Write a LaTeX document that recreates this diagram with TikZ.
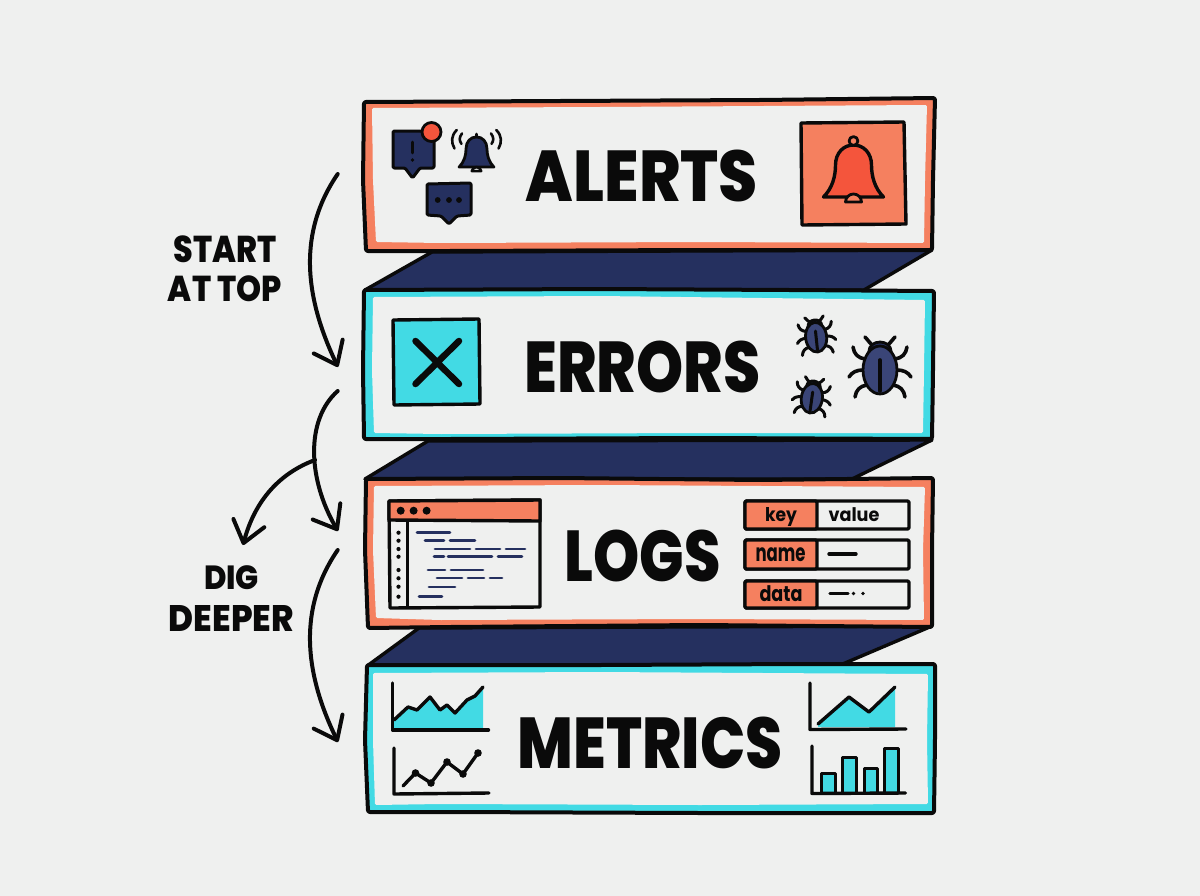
\documentclass[tikz,border=0pt]{standalone}
\usepackage{fontspec}
\usepackage{graphicx}
\setmainfont{Poppins}
\newfontface\heavyface{Poppins ExtraBold}
\newfontface\smallface{Poppins Bold}
\usetikzlibrary{arrows.meta}
\definecolor{paper}{HTML}{EFF0EF}
\definecolor{coral}{HTML}{F5805F}
\definecolor{aqua}{HTML}{42DAE4}
\definecolor{navy}{HTML}{25305F}
\definecolor{bugblue}{HTML}{3A4577}
\definecolor{inkred}{HTML}{F4553C}
\definecolor{ink}{HTML}{0A0A0A}
% Text stretched to a given box, sizes in drawing units
\newcommand{\fitbox}[3]{\resizebox*{#1\dimexpr0.75pt\relax}{#2\dimexpr0.75pt\relax}{\heavyface #3}}
\newcommand{\fitsmall}[3]{\resizebox*{#1\dimexpr0.75pt\relax}{#2\dimexpr0.75pt\relax}{\smallface #3}}
\tikzset{
  px/.style={line width=#1*0.75pt},
  frame/.style={draw=ink,px=4,rounded corners=1.5pt,line join=round},
  inset/.style={fill=paper,rounded corners=1pt},
  shelf/.style={fill=navy,draw=ink,px=3.4,line join=round},
  title/.style={inner sep=0pt,text=ink},
  ticklabel/.style={inner sep=0pt,text=ink},
  stroke/.style={draw=ink,px=3.4,line cap=round,line join=round},
  code/.style={draw=navy,px=2.8,line cap=round},
  flow/.style={draw=ink,px=4,line cap=round,
    -{Straight Barb[length=15.5pt,width=24pt,round,line width=3pt]}},
}
% Bell outline centred at the origin: half width 30, height 52
\newcommand{\bellpath}{(-30,26) .. controls (-21,17) and (-18,5) .. (-18,-6)
  .. controls (-18,-18) and (-10,-26) .. (0,-26)
  .. controls (10,-26) and (18,-18) .. (18,-6)
  .. controls (18,5) and (21,17) .. (30,26) -- cycle}
% One beetle: #1,#2 position, #3 scale, #4 rotation, #5 line width of its legs
\newcommand{\beetle}[5]{%
  \begin{scope}[shift={(#1,#2)},scale=#3,rotate=#4]
    \foreach \s in {-1,1}{
      \draw[stroke,px=#5,xscale=\s] (6,-22) .. controls (10,-24) and (12,-28) .. (15,-31);
      \draw[stroke,px=#5,xscale=\s] (15,-9) .. controls (22,-10) and (26,-14) .. (27,-21);
      \draw[stroke,px=#5,xscale=\s] (17,2) .. controls (23,2) and (28,4) .. (31,9);
      \draw[stroke,px=#5,xscale=\s] (13,17) .. controls (20,18) and (24,22) .. (25,29);
    }
    \fill[navy,draw=ink,px=2.8] (0,-17) ellipse [x radius=11,y radius=9];
    \fill[bugblue,draw=ink,px=2.8] (0,2) ellipse [x radius=17,y radius=24];
    \draw[stroke,px=#5] (0,-8) -- (0,23);
  \end{scope}}
\begin{document}
\begin{tikzpicture}[x=0.75pt,y=-0.75pt]
\useasboundingbox (0,0) rectangle (1200,896);
\fill[paper] (0,0) rectangle (1200,896);

% Dark slabs between the cards
\draw[shelf] (432,252) -- (932,250) -- (864,290) -- (365,290) -- cycle;
\draw[shelf] (428,441) -- (932,440) -- (852,479) -- (365,479) -- cycle;
\draw[shelf] (419,628) -- (932,626) -- (838,666) -- (367,666) -- cycle;

% ALERTS card
\draw[frame,fill=coral] (364,102) -- (560,101) -- (760,100) -- (935,98) -- (933,180) -- (932,250) -- (700,250) -- (450,251) -- (366,251) -- (363,180) -- cycle;
\path[inset] (372,108) -- (600,107) -- (927,105) -- (925,180) -- (924,243) -- (700,242) -- (440,243) -- (376,242) -- (373,180) -- cycle;
\node[title] (alerts) at (642,175.5) {\fitbox{232}{52}{ALERTS}};
\draw[stroke,fill=navy,rounded corners=1pt,px=3] (393,131) -- (434,131) -- (434,168) -- (420,168) -- (412.5,178) -- (405,168) -- (393,168) -- cycle;
\draw[draw=ink,px=2.6,line cap=round] (412.5,142) -- (412.5,153);
\fill[ink] (412.5,160) circle [radius=1.8];
\fill[inkred,draw=ink,px=2.8] (431.5,132) circle [radius=9.5];
\begin{scope}[shift={(476.5,152)},scale=0.58]
  \draw[stroke,fill=navy,px=2.8] \bellpath;
  \draw[stroke,px=3] (0,-26) -- (0,-31);
  \draw[stroke,fill=paper,px=2.6] (-8,33) arc[start angle=180,end angle=360,x radius=8,y radius=7] -- cycle;
  \foreach \s in {-1,1}{
    \draw[stroke,px=2.6,xscale=\s] (26,-14) .. controls (30,-20) and (30,-25) .. (25,-32);
    \draw[stroke,px=2.6,xscale=\s] (38,-6) .. controls (44,-17) and (44,-28) .. (34,-38);
  }
\end{scope}
\draw[stroke,fill=navy,rounded corners=1pt,px=3] (427,184) -- (471,183) -- (471,215) -- (457,216) -- (449,224) -- (441,216) -- (427,215) -- cycle;
\foreach \x in {437.7,449,459} \fill[ink] (\x,200) circle [radius=2.9];
\draw[stroke,fill=coral] (801,123) -- (904,122) -- (906,224) -- (802,225) -- cycle;
\begin{scope}[shift={(853.5,171)}]
  \draw[stroke,fill=inkred] \bellpath;
  \draw[stroke,fill=coral,px=2.8] (0,-30) circle [radius=4.4];
  \draw[stroke,fill=coral,px=2.8] (-8,31) arc[start angle=180,end angle=360,x radius=8,y radius=8] -- cycle;
\end{scope}

% ERRORS card
\draw[frame,fill=aqua] (364,290) -- (600,289) -- (790,290) -- (934,291) -- (933,370) -- (932,439) -- (700,438) -- (450,439) -- (364,439) -- (363,370) -- cycle;
\path[inset] (373,297) -- (600,296) -- (925,300) -- (924,370) -- (923,433) -- (700,433) -- (440,434) -- (374,433) -- (372,370) -- cycle;
\node[title] (errors) at (642.5,366.5) {\fitbox{236}{52}{ERRORS}};
\draw[stroke,fill=aqua] (393,320) -- (479,319) -- (480,404) -- (394,405) -- cycle;
\draw[stroke,px=6.5] (415.5,341) -- (459,384) (459,341) -- (415.5,384);
\beetle{816}{336}{0.62}{6}{3}
\beetle{812}{397}{0.62}{-8}{3}
\beetle{880}{368}{1}{0}{3.6}

% LOGS card
\draw[frame,fill=coral] (366,479) -- (560,478) -- (760,480) -- (933,478) -- (932,550) -- (932,627) -- (700,625) -- (450,627) -- (368,628) -- (365,550) -- cycle;
\path[inset] (374,486) -- (600,485) -- (925,487) -- (923,550) -- (924,620) -- (700,619) -- (440,620) -- (376,618) -- (373,550) -- cycle;
\node[title] (logs) at (642.5,555.5) {\fitbox{156}{52}{LOGS}};
\draw[stroke,fill=paper] (389,501) -- (540,500) -- (540,607) -- (390,608) -- cycle;
\draw[stroke,fill=coral] (389,501) -- (540,500) -- (540,521) -- (389,520) -- cycle;
\draw[stroke] (407.5,521) -- (407.5,607);
\foreach \x in {400.7,413.6,426.6} \fill[ink] (\x,510.7) circle [radius=4];
\foreach \y in {532.7,540.7,549,556.7,570,578.3,586.7,596.7} \fill[ink] (398.5,\y) circle [radius=2.1];
\foreach \a/\b/\y in {417/450/532.7, 425/444/540.7, 450/475/540.7, 435/470/549, 476/500/549, 506/525/549,
  434/444/556.7, 448/492/556.7, 498/522/556.7, 428/445/570, 451/483/570, 437/462/578, 468/484/578, 490/502/578,
  429/455/587, 419/442/596.7}
  \draw[code] (\a,\y) -- (\b,\y);
\foreach \t/\b in {501/529,540/569,581/608}{
  \draw[stroke,fill=paper,rounded corners=1pt] (745,\t) -- (909,\t) -- (909,\b) -- (745,\b) -- cycle;
  \draw[stroke,fill=coral,rounded corners=1pt] (745,\t) -- (817,\t) -- (817,\b) -- (745,\b) -- cycle;
}
\node[ticklabel] (lkey) at (781,517) {\fitsmall{32}{19}{key}};
\node[ticklabel] (lvalue) at (854,515) {\fitsmall{51}{14}{value}};
\node[ticklabel] (lname) at (780.5,555) {\fitsmall{50}{14}{name}};
\node[ticklabel] (ldata) at (781,593.5) {\fitsmall{43}{16}{data}};
\draw[stroke] (829,554) -- (856,554);
\draw[stroke] (830,593.5) -- (848,593.5);
\fill[ink] (853.5,593.5) circle [radius=1.8] (863,593.5) circle [radius=1.8];

% METRICS card
\draw[frame,fill=aqua] (367,665) -- (600,665) -- (800,664) -- (935,664) -- (935,740) -- (934,813) -- (700,813) -- (450,812) -- (368,812) -- (365,740) -- cycle;
\path[inset] (373,673) -- (600,672) -- (928,674) -- (927,740) -- (928,804) -- (700,805) -- (440,804) -- (375,805) -- (373,740) -- cycle;
\node[title] (metrics) at (650,742.5) {\fitbox{265}{52}{METRICS}};
\fill[aqua] (394,720) -- (408,707) -- (417,710) -- (430,697) -- (440,710) -- (447,705) -- (455,713) -- (467,700) -- (475,696) -- (483,687) -- (483,729) -- (394,729) -- cycle;
\draw[stroke] (394,720) -- (408,707) -- (417,710) -- (430,697) -- (440,710) -- (447,705) -- (455,713) -- (467,700) -- (475,696) -- (483,687);
\draw[stroke] (392.5,683) -- (392.5,730) -- (488.5,730);
\draw[stroke] (394,748) -- (394,794) -- (489,793);
\draw[stroke] (403,786) -- (415.5,773) -- (431,783) -- (447,762) -- (463,774) -- (478,753);
\foreach \x/\y in {415.5/773,431/783,447/762,463/774,478/753}
  \fill[ink] (\x,\y) circle [radius=3.8];
\fill[aqua] (818,724) -- (849,697) -- (869,712) -- (895,687) -- (895,727) -- (818,727) -- cycle;
\draw[stroke] (818,724) -- (849,697) -- (869,712) -- (895,687);
\draw[stroke] (810,683) -- (810,729.5) -- (906,729);
\foreach \a/\b/\t in {821/835/773, 842/856/757, 864/877/768, 884/898/748}
  \draw[stroke,px=3,fill=aqua] (\a,793) -- (\a,\t) -- (\b,\t) -- (\b,793);
\draw[stroke] (812,746) -- (812,793.5) -- (905.5,793);

% Side labels
\node[title] (lstart) at (225.5,249.5) {\fitbox{103}{27}{START}};
\node[title] (ltop) at (225,289) {\fitbox{114}{26}{AT TOP}};
\node[title] (ldig) at (231.5,578) {\fitbox{55}{24}{DIG}};
\node[title] (ldeeper) at (231.5,618) {\fitbox{125}{26}{DEEPER}};

% Reading-order arrows down the left side
\coordinate (aOut) at (337.7,174);
\coordinate (eIn) at (338,367);
\coordinate (eOut) at (337.7,391);
\coordinate (lIn) at (338,531);
\coordinate (lOut) at (337.7,550);
\coordinate (mIn) at (338,742);
\coordinate (fork) at (315,460);
\coordinate (side) at (243,545);
\draw[flow] (aOut) .. controls (298,232) and (304,296) .. (eIn);
\draw[flow] (eOut) .. controls (305,420) and (308,480) .. (lIn);
\draw[flow] (lOut) .. controls (298,608) and (304,672) .. (mIn);
\draw[flow] (fork) .. controls (280,473) and (255,500) .. (side);
\end{tikzpicture}
\end{document}
